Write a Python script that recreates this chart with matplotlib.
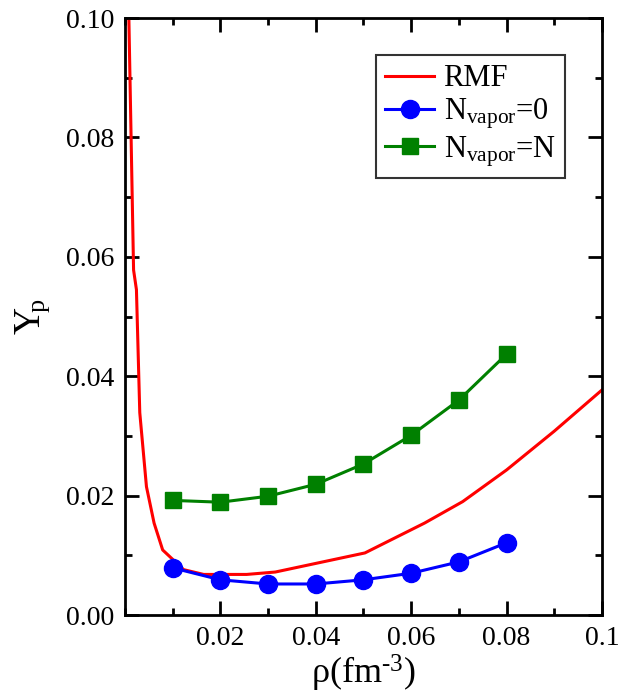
import matplotlib
matplotlib.use("Agg")
import matplotlib.pyplot as plt
from matplotlib.ticker import MultipleLocator, FixedLocator

plt.rcParams['font.family'] = ['Liberation Serif', 'DejaVu Serif']
plt.rcParams['mathtext.fontset'] = 'custom'
plt.rcParams['mathtext.rm'] = 'Liberation Serif'
plt.rcParams['mathtext.it'] = 'Liberation Serif:italic'

# RMF curve
rmf_x = [0.0008, 0.0018, 0.0024, 0.0031, 0.0045, 0.0061, 0.0079, 0.0123, 0.0165,
         0.0255, 0.0315, 0.0503, 0.0628, 0.0708, 0.080, 0.090, 0.100]
rmf_y = [0.1005, 0.0578, 0.0545, 0.0339, 0.0215, 0.0154, 0.0109, 0.0076, 0.0068,
         0.0068, 0.0072, 0.0104, 0.0154, 0.0190, 0.0243, 0.0308, 0.0377]

rho = [0.01, 0.02, 0.03, 0.04, 0.05, 0.06, 0.07, 0.08]
yp_vapor0 = [0.0079, 0.0059, 0.0052, 0.0052, 0.0059, 0.0070, 0.0089, 0.0121]
yp_vaporN = [0.0192, 0.0189, 0.0199, 0.0219, 0.0253, 0.0301, 0.0360, 0.0437]

fig = plt.figure(figsize=(6.24, 6.94), dpi=100)
ax = fig.add_axes([0.2003, 0.1138, 0.7644, 0.8602])

ax.plot(rmf_x, rmf_y, color='#ff0000', lw=2.2, label='RMF', zorder=2)
ax.plot(rho, yp_vapor0, color='#0000ff', lw=2.2, marker='o', ms=13,
        label=r'N$_{\rm vapor}$=0', zorder=3)
ax.plot(rho, yp_vaporN, color='#008000', lw=2.2, marker='s', ms=11,
        label=r'N$_{\rm vapor}$=N', zorder=3)

ax.set_xlim(0, 0.1)
ax.set_ylim(0, 0.1)
ax.xaxis.set_major_locator(FixedLocator([0.02, 0.04, 0.06, 0.08, 0.1]))
ax.set_xticklabels(['0.02', '0.04', '0.06', '0.08', '0.1'])
ax.xaxis.set_minor_locator(MultipleLocator(0.01))
ax.yaxis.set_major_locator(MultipleLocator(0.02))
ax.yaxis.set_minor_locator(MultipleLocator(0.01))
ax.yaxis.set_major_formatter(matplotlib.ticker.FormatStrFormatter('%.2f'))

ax.tick_params(which='both', direction='in', top=True, right=True, width=2,
               labelsize=20)
ax.tick_params(which='major', length=10, pad=8)
ax.tick_params(which='minor', length=5)
for s in ax.spines.values():
    s.set_linewidth(2)

ax.set_xlabel('ρ(fm$^{\\text{-3}}$)', fontsize=26, labelpad=1)
ax.set_ylabel(r'$\mathrm{Y\!_p}$', fontsize=27, labelpad=10)

leg = ax.legend(loc='upper right', bbox_to_anchor=(0.922, 0.938), fontsize=22,
                frameon=True, fancybox=False, edgecolor='black',
                handlelength=1.6, handletextpad=0.3, borderpad=0.3,
                labelspacing=0.1, borderaxespad=0)
leg.get_frame().set_linewidth(1.5)

fig.savefig('out.png', dpi=100)
